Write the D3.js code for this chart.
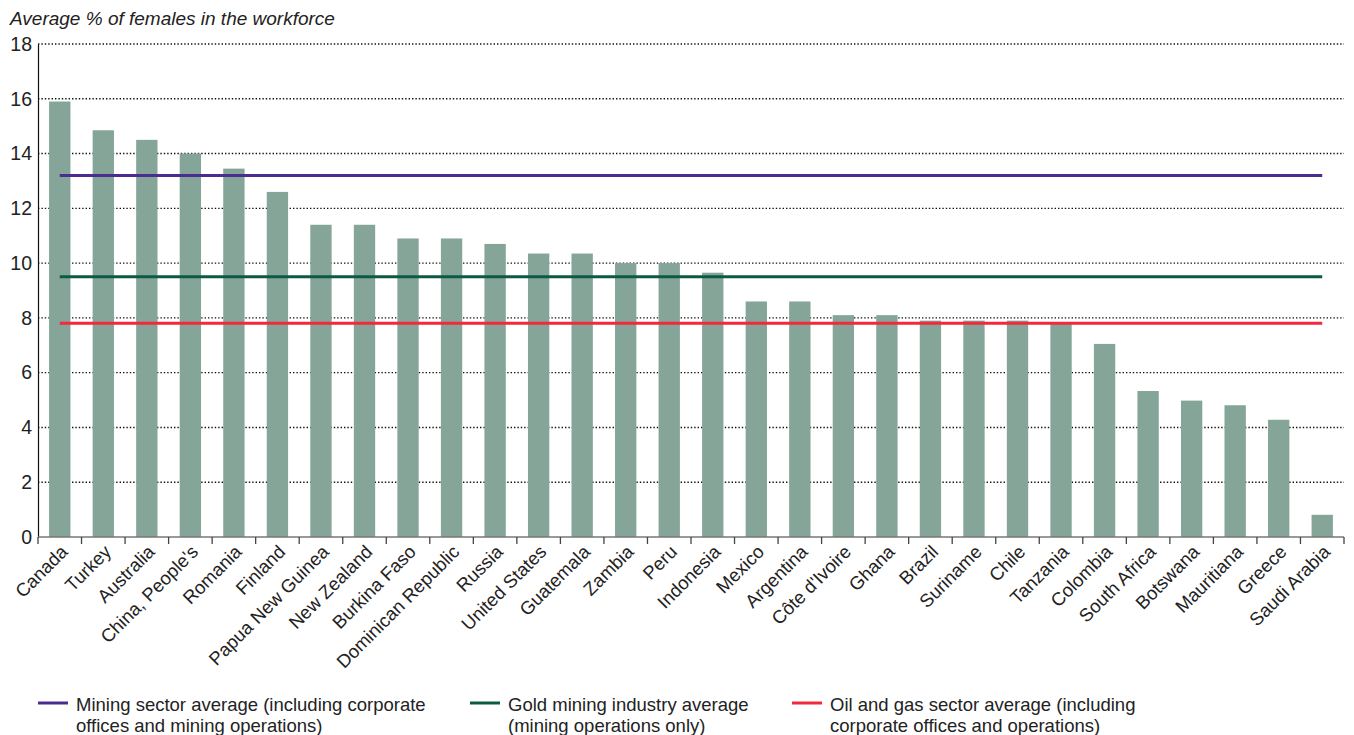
<!DOCTYPE html>
<html><head><meta charset="utf-8">
<script src="https://cdn.jsdelivr.net/npm/d3@7"></script>
<style>
body{margin:0;background:#fff;}
svg{display:block;font-family:"Liberation Sans",Arial,sans-serif;}
</style></head>
<body>
<svg id="chart" width="1354" height="735"></svg>
<script>
const countries = ["Canada","Turkey","Australia","China, People's","Romania","Finland","Papua New Guinea","New Zealand","Burkina Faso","Dominican Republic","Russia","United States","Guatemala","Zambia","Peru","Indonesia","Mexico","Argentina","Côte d'Ivoire","Ghana","Brazil","Suriname","Chile","Tanzania","Colombia","South Africa","Botswana","Mauritiana","Greece","Saudi Arabia"];
const values = [15.9,14.85,14.5,14.0,13.45,12.6,11.4,11.4,10.9,10.9,10.7,10.35,10.35,10.0,10.0,9.65,8.6,8.6,8.1,8.1,7.9,7.9,7.9,7.8,7.05,5.33,4.98,4.81,4.28,0.81];
const yTicks = [0,2,4,6,8,10,12,14,16,18];
const averageNames = ["Mining sector average (including corporate|offices and mining operations)","Gold mining industry average|(mining operations only)","Oil and gas sector average (including|corporate offices and operations)"];
const averageValues = [13.2,9.5,7.8];
const averageColors = ["#4b2c91","#0d5a44","#f2283f"];
const titleText = "Average % of females in the workforce";

const svg = d3.select("#chart");
const mLeft = 38, mRight = 1344, mTop = 44, mBottom = 537;
const x = d3.scaleBand().domain(countries).range([mLeft, mRight]).paddingInner(0.51).paddingOuter(0.255);
const xb = d3.scaleBand().domain(countries).range([mLeft, mRight]);
const y = d3.scaleLinear().domain([0, 18]).range([mBottom, mTop]);

// title
svg.append("text").attr("x", 10).attr("y", 25).attr("font-size", 19).attr("font-style", "italic").attr("fill", "#222").text(titleText);

// gridlines
svg.append("g").selectAll("line").data(yTicks.filter(d => d > 0)).join("line")
  .attr("x1", mLeft).attr("x2", mRight).attr("y1", d => y(d)).attr("y2", d => y(d))
  .attr("stroke", "#111").attr("stroke-width", 1.4).attr("stroke-dasharray", "1.4,2");

// bars
svg.append("g").selectAll("rect").data(countries).join("rect")
  .attr("x", d => x(d)).attr("width", x.bandwidth())
  .attr("y", (d, i) => y(values[i])).attr("height", (d, i) => y(0) - y(values[i]))
  .attr("fill", "#84a598");

// average lines
const c0 = xb(countries[0]) + xb.bandwidth() / 2;
const c1 = xb(countries[countries.length - 1]) + xb.bandwidth() / 2;
svg.append("g").selectAll("line").data(averageValues).join("line")
  .attr("x1", c0).attr("x2", c1).attr("y1", d => y(d)).attr("y2", d => y(d))
  .attr("stroke", (d, i) => averageColors[i]).attr("stroke-width", 3);

// y axis
const yAxis = svg.append("g").attr("transform", `translate(${mLeft},0)`)
  .call(d3.axisLeft(y).tickValues(yTicks).tickSize(0).tickPadding(6));
yAxis.select(".domain").attr("stroke", "#111").attr("stroke-width", 1.2);
yAxis.selectAll("text").attr("font-size", 19.5).attr("fill", "#222").attr("font-family", "Liberation Sans, Arial, sans-serif");

// x axis
const xAxisG = svg.append("g").attr("transform", `translate(0,${mBottom})`);
xAxisG.append("line").attr("x1", mLeft).attr("x2", mRight).attr("stroke", "#777").attr("stroke-width", 1.5);
const bounds = countries.map(c => xb(c)).concat([mRight]);
xAxisG.selectAll("line.tk").data(bounds).join("line").attr("class", "tk")
  .attr("x1", d => d).attr("x2", d => d).attr("y1", 0).attr("y2", 7)
  .attr("stroke", "#444").attr("stroke-width", 1.3);
xAxisG.selectAll("text").data(countries).join("text")
  .attr("transform", d => `translate(${xb(d) + xb.bandwidth() / 2 + 9},${16}) rotate(-45)`)
  .attr("text-anchor", "end").attr("font-size", 18.5).attr("fill", "#222")
  .text(d => d);

// legend
const legX = [38, 470, 792];
averageNames.forEach((name, i) => {
  const g = svg.append("g").attr("transform", `translate(${legX[i]},0)`);
  g.append("line").attr("x1", 0).attr("x2", 30).attr("y1", 703).attr("y2", 703)
    .attr("stroke", averageColors[i]).attr("stroke-width", 3);
  name.split("|").forEach((ln, j) => {
    g.append("text").attr("x", 38).attr("y", 711 + j * 21).attr("font-size", 18.5).attr("fill", "#222").text(ln);
  });
});
</script>
</body></html>
